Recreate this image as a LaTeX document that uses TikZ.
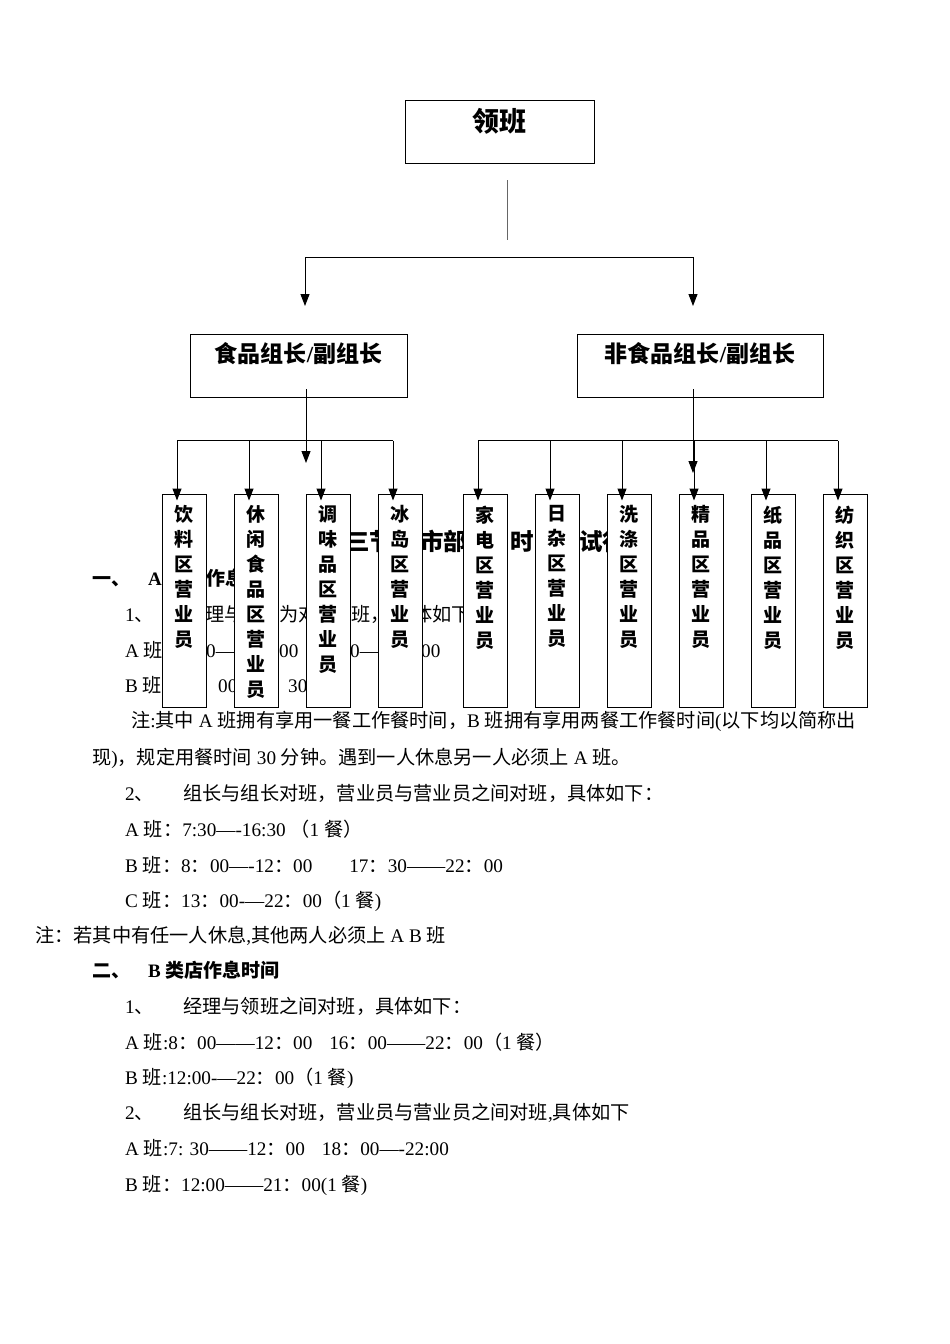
\documentclass[tikz,border=0pt]{standalone}
\usepackage{fontspec}
\setmainfont{Liberation Serif}
\newfontfamily\zhfont{Noto Sans CJK SC}
\usetikzlibrary{arrows.meta,positioning}

% switch to the CJK font for Chinese characters
\XeTeXinterchartokenstate=1
\newXeTeXintercharclass\zhclass
\newcount\zhcnt
\newcommand\zhrange[2]{\zhcnt=#1\relax
  \loop\XeTeXcharclass\zhcnt=\zhclass
  \ifnum\zhcnt<#2\relax\advance\zhcnt by 1\repeat}
\zhrange{"3000}{"303F}
\zhrange{"4E00}{"9FFF}
\zhrange{"FF00}{"FFEF}
\XeTeXinterchartoks 0 \zhclass = {\zhfont}
\XeTeXinterchartoks 4095 \zhclass = {\zhfont}
\XeTeXinterchartoks \zhclass 0 = {\rmfamily}
\XeTeXinterchartoks \zhclass 4095 = {\rmfamily}

\tikzset{
  chartbox/.style={draw, fill=white, line width=1pt, inner sep=0pt},
  staffbox/.style={chartbox, minimum width=44pt, minimum height=213pt},
  stafftext/.style={anchor=north, align=center, inner sep=0pt, font=\bfseries\fontsize{19}{25}\selectfont},
  txt/.style={anchor=base west, inner sep=0pt, font=\fontsize{19.2}{19.2}\selectfont},
  hd/.style={txt, font=\bfseries\fontsize{19}{19}\selectfont},
  ttl/.style={txt, font=\bfseries\fontsize{23.5}{23.5}\selectfont},
  link/.style={line width=1pt},
  arr/.style={line width=1pt, -{Triangle[length=12pt,width=9pt]}}
}

\begin{document}
\begin{tikzpicture}[x=1pt,y=-1pt]
\useasboundingbox (0,0) rectangle (950,1344);

% text of the page (partly covered by the chart)
\node[ttl] (ti1) at (346,550) {三节};
\node[ttl] (ti2) at (420,550) {市部};
\node[ttl] (ti3) at (510,550) {时};
\node[ttl] (ti4) at (579,550) {试行};
\node[hd] (h1a) at (92,585) {一、};
\node[hd] (h1b) at (148,585) {A};
\node[hd] (h1c) at (206,585) {作息};
\node[txt] (r1a) at (125,621) {1、};
\node[txt] (r1b) at (205,621) {理与};
\node[txt] (r1c) at (279,621) {为对};
\node[txt] (r1d) at (351,621) {班，};
\node[txt] (r1e) at (413,621) {体如下};
\node[txt] (r2a) at (125,657) {A 班};
\node[txt] (r2b) at (206,657) {0—};
\node[txt] (r2c) at (279,657) {00};
\node[txt] (r2d) at (350,657) {0—};
\node[txt] (r2e) at (421,657) {00};
\node[txt] (r3a) at (125,692) {B 班};
\node[txt] (r3b) at (218,692) {00};
\node[txt] (r3c) at (288,692) {30};
\node[txt] (n1) at (131,727) {注:其中 A 班拥有享用一餐工作餐时间，B 班拥有享用两餐工作餐时间(以下均以简称出};
\node[txt] (n2) at (92,764) {现)，规定用餐时间 30 分钟。遇到一人休息另一人必须上 A 班。};
\node[txt] (p2a) at (125,800) {2、};
\node[txt] (p2b) at (183,800) {组长与组长对班，营业员与营业员之间对班，具体如下：};
\node[txt] (sa) at (125,836) {A 班：7:30—-16:30 （1 餐）};
\node[txt] (sb) at (125,872) {B 班：8：00—-12：00\hspace{37pt}17：30——22：00};
\node[txt] (sc) at (125,907) {C 班：13：00-—22：00（1 餐)};
\node[txt] (n3) at (35,942) {注：若其中有任一人休息,其他两人必须上 A B 班};
\node[hd] (h2a) at (92,977) {二、};
\node[hd] (h2b) at (148,977) {B 类店作息时间};
\node[txt] (q1a) at (125,1013) {1、};
\node[txt] (q1b) at (183,1013) {经理与领班之间对班，具体如下：};
\node[txt] (qa) at (125,1049) {A 班:8：00——12：00\hspace{17pt}16：00——22：00（1 餐）};
\node[txt] (qb) at (125,1084) {B 班:12:00-—22：00（1 餐)};
\node[txt] (q2a) at (125,1119) {2、};
\node[txt] (q2b) at (183,1119) {组长与组长对班，营业员与营业员之间对班,具体如下};
\node[txt] (qc) at (125,1155) {A 班:7: 30——12：00\hspace{17pt}18：00—-22:00};
\node[txt] (qd) at (125,1191) {B 班：12:00——21：00(1 餐)};

% chart boxes
\node[chartbox, anchor=north, minimum width=189pt, text height=31pt, text depth=32pt,
  font=\bfseries\fontsize{27}{27}\selectfont] (lead) at (499.5,100) {领班};
\node[chartbox, anchor=north, minimum width=217pt, text height=28pt, text depth=35pt,
  font=\bfseries\fontsize{23}{23}\selectfont] (food) at (298.5,334) {食品组长/副组长};
\node[chartbox, anchor=north, minimum width=246pt, text height=28pt, text depth=35pt,
  font=\bfseries\fontsize{23}{23}\selectfont] (nonfood) at (700,334) {非食品组长/副组长};

\foreach \n/\x/\txt in {s1/184/{饮\\料\\区\\营\\业\\员}, s2/256/{休\\闲\\食\\品\\区\\营\\业\\员},
    s3/328/{调\\味\\品\\区\\营\\业\\员}, s4/400/{冰\\岛\\区\\营\\业\\员},
    s5/485/{家\\电\\区\\营\\业\\员}, s6/557/{日\\杂\\区\\营\\业\\员},
    s7/629/{洗\\涤\\区\\营\\业\\员}, s8/701/{精\\品\\区\\营\\业\\员},
    s9/773/{纸\\品\\区\\营\\业\\员}, s10/845/{纺\\织\\区\\营\\业\\员}} {
  \node[staffbox] (\n) at (\x,600.5) {};
  \node[stafftext] (\n-t) at ([yshift=-12pt]\n.north) {\txt};
}

% connectors
\coordinate (leadtail) at (507,180);
\coordinate (leadend) at (507,240);
\draw[line width=1pt, black!60] (leadtail) -- (leadend);
\coordinate (topL) at (305,257);
\coordinate (topR) at (693,257);
\coordinate (foodtip) at (305,306);
\coordinate (nonfoodtip) at (693,306);
\draw[link] (topL) -- (topR);
\draw[arr] (topL) -- (foodtip);
\draw[arr] (topR) -- (nonfoodtip);

\draw[link] ([shift={(-7pt,53pt)}]s1.north) -- ([shift={(-7pt,53pt)}]s4.north);
\draw[link] ([shift={(-7pt,53pt)}]s5.north) -- ([shift={(-7pt,53pt)}]s10.north);
\foreach \n in {s1,s2,s3,s4,s5,s6,s7,s8,s9,s10}
  \draw[arr] ([shift={(-7pt,53pt)}]\n.north) -- ([shift={(-7pt,-7pt)}]\n.north);

\draw[arr] ([shift={(7.5pt,9pt)}]food.south) -- ([shift={(7.5pt,-65pt)}]food.south);
\draw[arr] ([shift={(-7pt,9pt)}]nonfood.south) -- ([shift={(-7pt,-75pt)}]nonfood.south);
\end{tikzpicture}
\end{document}
